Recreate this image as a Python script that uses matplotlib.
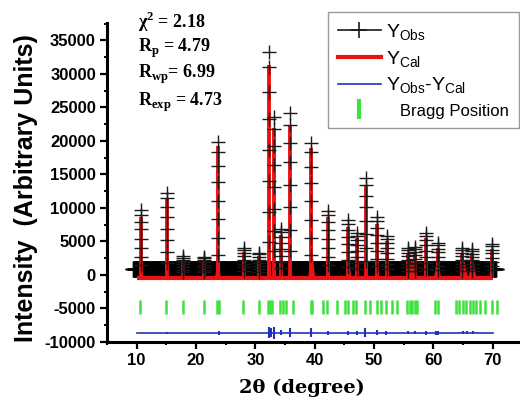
import numpy as np
import matplotlib
matplotlib.use('Agg')
import matplotlib.pyplot as plt
from matplotlib.lines import Line2D
from matplotlib.ticker import MultipleLocator

plt.rc('font', family='Liberation Sans')
plt.rc('axes', unicode_minus=False)
plt.rc('mathtext', fontset='custom', rm='Liberation Sans', it='Liberation Sans:italic',
       bf='Liberation Serif:bold')

# refined peaks: position (2theta), observed top, calculated top
peak_pos = [10.7, 15.1, 17.8, 21.4, 23.7, 28.1, 30.6, 32.3, 33.1, 34.4, 35.9,
            39.4, 42.2, 45.6, 47.1, 48.6, 50.5, 52.2, 55.8, 56.9, 58.8, 60.7,
            64.8, 66.5, 69.8]
peak_obs = [9700, 12300, 2800, 2700, 19800, 4000, 3300, 33300, 23500, 6900, 24100,
            19700, 9600, 8200, 6300, 14400, 8600, 5800, 4000, 4200, 6300, 4800,
            4000, 3900, 4600]
peak_cal = [8600, 11300, 2200, 2300, 19300, 3400, 2900, 31300, 22000, 6000, 22300,
            19000, 8600, 7200, 5500, 13500, 7600, 5000, 3300, 3500, 5500, 4000,
            3300, 3300, 3900]
# fraction of the peak top where observed points sit on each flank
obs_frac = [1.0, 0.93, 0.82, 0.7, 0.56, 0.42, 0.28, 0.15]

# broad calculated bases
hump_pos = [23.7, 39.5, 45.7, 47.1, 56.4, 60.7, 65.2, 66.6]
hump_hgt = [3000, 4500, 3000, 2500, 2500, 3000, 2200, 2800]
hump_wid = [0.5, 0.6, 0.5, 0.4, 1.0, 0.6, 0.7, 0.7]

bg_x = np.arange(9.4, 70.6, 0.05)
bg_obs = 850
bg_cal = -500

bragg_pos = [10.55, 14.9, 17.8, 21.3, 23.5, 23.9, 28.0, 30.6, 32.1, 32.4, 32.8,
             34.2, 34.7, 35.2, 36.4, 39.3, 39.6, 41.4, 42.0, 43.7, 45.1, 45.6,
             46.5, 47.0, 48.5, 49.3, 50.5, 51.2, 52.0, 53.0, 53.8, 55.5, 56.0,
             56.4, 56.9, 57.3, 60.3, 60.7, 63.8, 64.4, 65.0, 65.5, 66.1, 66.7,
             67.2, 67.9, 68.7, 69.9, 70.7]
bragg_lo, bragg_hi = -5800, -3700

diff_base = -8600
diff_x = [10.0, 70.0]
diff_pos = [15.1, 23.8, 32.3, 32.6, 33.1, 34.3, 35.9, 39.4, 42.3, 45.6, 47.1,
            48.5, 50.5, 52.0, 55.8, 56.9, 58.8, 60.4, 60.8, 65.0, 65.6, 66.7]
diff_amp = [150, 300, 800, 700, 900, 400, 700, 700, 300, 300, 300,
            650, 350, 300, 250, 250, 300, 300, 300, 250, 250, 250]

fig = plt.figure(figsize=(5.2, 4.05), dpi=100)
ax = fig.add_axes([107/520, 63/405, 413/520, 319/405])

# observed background band
ax.plot(bg_x, np.full(len(bg_x), bg_obs), '+', color='black', ms=11.5, mew=1.0, zorder=1)

# calculated pattern
ax.plot([10.0, 70.0], [bg_cal, bg_cal], color='#ee1111', lw=3.0, zorder=2,
        solid_capstyle='butt')
for p, h, w in zip(hump_pos, hump_hgt, hump_wid):
    ax.fill([p - w, p, p + w], [bg_cal, h, bg_cal], color='#ee1111', lw=0, zorder=2)
ax.vlines(peak_pos, bg_cal, peak_cal, color='#ee1111', lw=2.8, zorder=2)

# observed points on peaks
for p, h in zip(peak_pos, peak_obs):
    ys = [h * f for f in obs_frac]
    ax.plot([p] * len(ys), ys, '+', color='#1a1a1a', ms=10, mew=1.0, zorder=3)

# Bragg positions
ax.vlines(bragg_pos, bragg_lo, bragg_hi, color='#3ee03e', lw=1.8, zorder=2)

# difference curve
ax.plot(diff_x, [diff_base, diff_base], color='#2233bb', lw=1.2, zorder=2)
ax.vlines(diff_pos, [diff_base - a for a in diff_amp], [diff_base + a for a in diff_amp],
          color='#2233bb', lw=1.5, zorder=2)

ax.set_xlim(5, 74.6)
ax.set_ylim(-10000, 37600)
ax.xaxis.set_major_locator(MultipleLocator(10))
ax.xaxis.set_minor_locator(MultipleLocator(5))
ax.yaxis.set_major_locator(MultipleLocator(5000))
ax.yaxis.set_minor_locator(MultipleLocator(2500))
ax.set_xticks(range(10, 80, 10))
ax.set_yticks(range(-10000, 40000, 5000))
ax.spines['top'].set_visible(False)
ax.spines['right'].set_visible(False)
for s in ['left', 'bottom']:
    ax.spines[s].set_linewidth(2.2)
ax.tick_params(which='major', direction='out', length=5, width=1.6, pad=3,
               labelsize=12)
ax.tick_params(which='minor', direction='out', length=2.5, width=1.4)
for lab in ax.get_xticklabels() + ax.get_yticklabels():
    lab.set_fontweight('bold')

fig.text(26/520, 1 - 188/405, 'Intensity  (Arbitrary Units)', rotation=90,
         ha='center', va='center', fontsize=18, fontweight='bold')
fig.text(302/520, 1 - 388/405, '2θ (degree)', ha='center', va='center',
         fontsize=14, fontweight='bold', family='DejaVu Serif')

stats = ['χ$^{\\mathbf{2}}$ = 2.18', '$\\mathbf{R}_{\\mathbf{p}}$ = 4.79',
         '$\\mathbf{R}_{\\mathbf{wp}}$= 6.99', '$\\mathbf{R}_{\\mathbf{exp}}$ = 4.73']
baselines = [28, 52, 78, 106]
for s, b in zip(stats, baselines):
    fig.text(138/520, 1 - b/405, s, ha='left', va='baseline', fontsize=13,
             fontweight='bold', family='Liberation Serif')

handles = [Line2D([], [], color='#1a1a1a', lw=1.2, marker='+', ms=12, mew=1.2),
           Line2D([], [], color='#ee1111', lw=3),
           Line2D([], [], color='#2233bb', lw=1.2),
           Line2D([], [], color='#3ee03e', lw=0, marker='|', ms=14, mew=3)]
labels = ['Y$_{\\mathrm{Obs}}$', 'Y$_{\\mathrm{Cal}}$',
          'Y$_{\\mathrm{Obs}}$-Y$_{\\mathrm{Cal}}$', '   Bragg Position']
leg = fig.legend(handles, labels, loc='upper right', bbox_to_anchor=(519/520, 1 - 12/405),
                 fontsize=14, frameon=True, fancybox=False, edgecolor='#999999',
                 framealpha=1, borderpad=0.5, labelspacing=0.35, handlelength=2.2,
                 handletextpad=0.3, borderaxespad=0)
leg.get_frame().set_linewidth(1.0)
leg.get_texts()[3].set_fontsize(12)

fig.savefig('out.png', dpi=100)
